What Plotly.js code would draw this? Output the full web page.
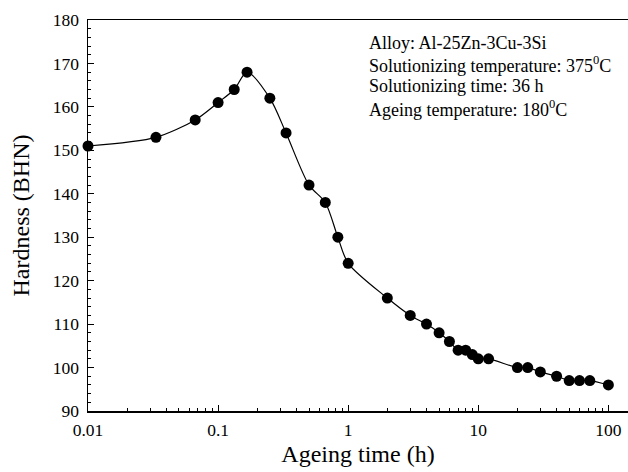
<!DOCTYPE html>
<html>
<head>
<meta charset="utf-8">
<script src="https://cdn.plot.ly/plotly-3.0.1.min.js"></script>
<style>html,body{margin:0;padding:0;background:#fff;}#chart{width:628px;height:472px;}</style>
</head>
<body>
<div id="chart"></div>
<script>
// Ageing time (h)
const ageingTime = [0.01, 0.0333, 0.0667, 0.1, 0.133, 0.167, 0.25, 0.333, 0.5, 0.667, 0.833, 1,
  2, 3, 4, 5, 6, 7, 8, 9, 10, 12, 20, 24, 30, 40, 50, 60, 72, 100];
// Hardness (BHN)
const hardness = [151, 153, 157, 161, 164, 168, 162, 154, 142, 138, 130, 124,
  116, 112, 110, 108, 106, 104, 104, 103, 102, 102, 100, 100, 99, 98, 97, 97, 97, 96];
const xTickVals = [0.01, 0.1, 1, 10, 100];
const xTickText = ['0.01', '0.1', '1', '10', '100'];
const yTickVals = [90, 100, 110, 120, 130, 140, 150, 160, 170, 180];
const infoLines = [
  'Alloy: Al-25Zn-3Cu-3Si',
  'Solutionizing temperature: 375<sup>0</sup>C',
  'Solutionizing time: 36 h',
  'Ageing temperature: 180<sup>0</sup>C'
];

const minorX = [];
for (let d = 0.01; d < 200; d *= 10) {
  for (let k = 2; k <= 9; k++) minorX.push(d * k);
}

const font = 'Liberation Serif, Times New Roman, serif';

// annotation lines placed one per row (paper coordinates)
const annots = infoLines.map((t, i) => ({
  xref: 'paper', yref: 'paper',
  x: 0.517, y: 0.941 - i * 0.0555,
  xanchor: 'left', yanchor: 'middle',
  align: 'left', showarrow: false,
  text: t,
  font: {family: font, size: 18, color: '#000'}
}));

Plotly.newPlot('chart', [{
  x: ageingTime,
  y: hardness,
  mode: 'lines+markers',
  line: {shape: 'spline', smoothing: 0.8, color: '#000', width: 1.2},
  marker: {size: 11, color: '#000'},
  cliponaxis: false,
  hoverinfo: 'skip'
}], {
  width: 628, height: 472,
  margin: {l: 88, r: 0, t: 20, b: 61},
  paper_bgcolor: '#fff', plot_bgcolor: '#fff',
  showlegend: false,
  font: {family: font, color: '#000', size: 16},
  xaxis: {
    type: 'log',
    range: [-2, 2.151],
    tickmode: 'array', tickvals: xTickVals, ticktext: xTickText,
    ticks: 'inside', ticklen: 6, tickwidth: 1, tickcolor: '#000',
    minor: {tickmode: 'array', tickvals: minorX, ticks: 'inside', ticklen: 3, tickcolor: '#000', showgrid: false},
    showline: true, linecolor: '#000', linewidth: 1.5, mirror: true,
    showgrid: false, zeroline: false,
    tickfont: {family: font, size: 17.5, color: '#000'},
    ticklabelstandoff: 2,
    title: {text: 'Ageing time (h)', font: {family: font, size: 24, color: '#000'}, standoff: 6}
  },
  yaxis: {
    range: [90, 180],
    tickmode: 'array', tickvals: yTickVals,
    ticks: 'inside', ticklen: 6, tickwidth: 1, tickcolor: '#000',
    minor: {dtick: 2, ticks: 'inside', ticklen: 3, tickcolor: '#000', showgrid: false},
    showline: true, linecolor: '#000', linewidth: 1.5,
    showgrid: false, zeroline: false,
    tickfont: {family: font, size: 17.5, color: '#000'},
    ticklabelstandoff: 4,
    title: {text: 'Hardness (BHN)', font: {family: font, size: 24, color: '#000'}, standoff: 16}
  },
  annotations: annots
}, {displayModeBar: false, staticPlot: true});
</script>
</body>
</html>
